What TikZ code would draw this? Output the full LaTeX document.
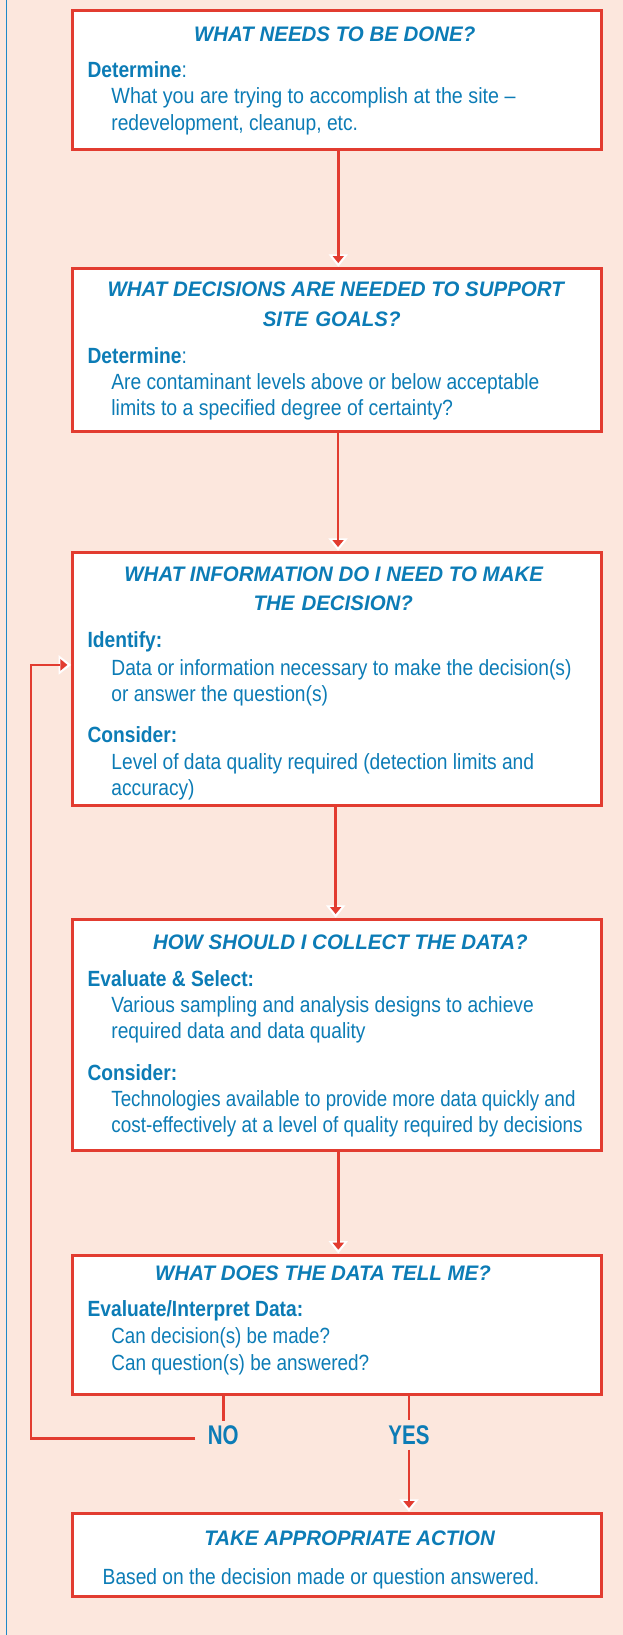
\documentclass[tikz,border=0pt]{standalone}
\usepackage{fontspec}
\usepackage{graphicx}
\setmainfont{Liberation Sans}
\newfontfamily\bodyf{Liberation Sans}[FakeStretch=0.873]
\newfontfamily\titlef{Liberation Sans}[FakeStretch=0.975]
\newfontfamily\ynf{Liberation Sans}[FakeStretch=0.76]
\usetikzlibrary{arrows.meta,calc}
\definecolor{tblue}{RGB}{12,124,182}
\definecolor{tred}{RGB}{226,60,48}
\definecolor{bgc}{RGB}{252,231,221}
\definecolor{lblue}{RGB}{30,136,200}
\tikzset{
  ttl/.style={anchor=base, inner sep=0pt, text=tblue, font=\titlef\fontsize{21}{25}\selectfont\bfseries\itshape},
  lbl/.style={anchor=base west, inner sep=0pt, text=tblue, font=\bodyf\fontsize{22}{26}\selectfont\bfseries},
  bodytxt/.style={anchor=base west, inner sep=0pt, text=tblue, font=\bodyf\fontsize{22}{26}\selectfont},
  yn/.style={text=tblue, font=\ynf\fontsize{27}{30}\selectfont\bfseries, inner xsep=12.5pt},
  box/.style={draw=tred, line width=3pt, fill=white, minimum width=528.3pt, inner sep=0pt},
  conn/.style={draw=tred, line width=2.5pt},
  arr/.style={conn, -{Triangle[width=19.5pt,length=12.5pt,line width=0pt,color=white]},
    postaction={draw=tred, line width=2.5pt, shorten >=3.8pt,
      -{Triangle[width=11.5pt,length=7pt,line width=0pt,color=tred]}}}
}
\begin{document}
\begin{tikzpicture}[x=1pt,y=-1pt]
\useasboundingbox (0,0) rectangle (623,1635);
\fill[bgc] (0,0) rectangle (623,1635);
\draw[lblue, line width=1.3pt] (6.7,0) -- (6.7,1635);

% boxes
\node[box, minimum height=138.6pt] (b1) at (336.85,80) {};
\node[box, minimum height=162.7pt] (b2) at (336.85,349.65) {};
\node[box, minimum height=253.2pt] (b3) at (336.85,678.9) {};
\node[box, minimum height=231.4pt] (b4) at (336.85,1035) {};
\node[box, minimum height=139.3pt] (b5) at (336.85,1324.65) {};
\node[box, minimum height=82.7pt] (b6) at (336.85,1554.65) {};

% box 1
\node[ttl] (t1) at (334.7,41.7) {WHAT NEEDS TO BE DONE?};
\node[bodytxt] (l1) at (87.4,77.3) {\textbf{Determine}:};
\node[bodytxt] (x1a) at (111.2,104) {\scalebox{1.026}[1]{What you are trying to accomplish at the site \textendash}};
\node[bodytxt] (x1b) at (111.2,130.5) {redevelopment, cleanup, etc.};

% box 2
\node[ttl] (t2a) at (335.7,296.7) {WHAT DECISIONS ARE NEEDED TO SUPPORT};
\node[ttl] (t2b) at (331.7,326.7) {SITE\hspace{7pt}GOALS?};
\node[bodytxt] (l2) at (87.4,363.3) {\textbf{Determine}:};
\node[bodytxt] (x2a) at (111.2,389.3) {Are contaminant levels above or below acceptable};
\node[bodytxt] (x2b) at (111.2,415) {\scalebox{1.013}[1]{limits to a specified degree of certainty?}};

% box 3
\node[ttl] (t3a) at (333.7,581.7) {WHAT INFORMATION DO I NEED TO MAKE};
\node[ttl] (t3b) at (333.3,610.7) {THE\hspace{7pt}DECISION?};
\node[lbl] (l3a) at (87.4,647.7) {Identify:};
\node[bodytxt] (x3a) at (111.2,675) {Data or information necessary to make the decision(s)};
\node[bodytxt] (x3b) at (111.2,701) {or answer the question(s)};
\node[lbl] (l3b) at (87.4,742.3) {Consider:};
\node[bodytxt] (x3c) at (111.2,769) {Level of data quality required (detection limits and};
\node[bodytxt] (x3d) at (111.2,795) {accuracy)};

% box 4
\node[ttl] (t4) at (340.3,949.7) {HOW SHOULD I COLLECT THE DATA?};
\node[lbl] (l4a) at (87.4,986.5) {Evaluate \& Select:};
\node[bodytxt] (x4a) at (111.2,1012) {Various sampling and analysis designs to achieve};
\node[bodytxt] (x4b) at (111.2,1038) {required data and data quality};
\node[lbl] (l4b) at (87.4,1080.7) {Consider:};
\node[bodytxt] (x4c) at (111.2,1106) {\scalebox{0.975}[1]{Technologies available to provide more data quickly and}};
\node[bodytxt] (x4d) at (111.2,1132.5) {\scalebox{0.986}[1]{cost-effectively at a level of quality required by decisions}};

% box 5
\node[ttl] (t5) at (323,1280) {WHAT DOES THE DATA TELL ME?};
\node[lbl] (l5) at (87.4,1316.7) {Evaluate/Interpret Data:};
\node[bodytxt] (x5a) at (111.2,1343.3) {\scalebox{0.975}[1]{Can decision(s) be made?}};
\node[bodytxt] (x5b) at (111.2,1370) {\scalebox{0.986}[1]{Can question(s) be answered?}};

% box 6
\node[ttl] (t6) at (349.6,1545) {TAKE APPROPRIATE ACTION};
\node[bodytxt] (x6) at (102.5,1584) {Based on the decision made or question answered.};

% NO / YES
\node[yn, inner ysep=4pt] (no) at (223.3,1435) {NO};
\node[yn, inner ysep=5pt, inner xsep=2pt] (yes) at (409,1435) {YES};
\coordinate (fb) at (31,1438.3);

% connectors
\draw[arr] ([xshift=1.45pt]b1.south) -- ([xshift=1.45pt]b2.north);
\draw[arr] ([xshift=1.2pt]b2.south) -- ([xshift=1.2pt]b3.north);
\draw[arr] ([xshift=-1.2pt]b3.south) -- ([xshift=-1.2pt]b4.north);
\draw[arr] ([xshift=1.45pt]b4.south) -- ([xshift=1.45pt]b5.north);
\draw[conn] (no.north |- b5.south) -- (no.north);
\draw[conn] (yes.north |- b5.south) -- (yes.north);
\draw[arr] (yes.south) -- (yes.south |- b6.north);
\draw[arr] ([yshift=-3.3pt]no.west) -- (fb) |- ([yshift=14pt]b3.west);
\end{tikzpicture}
\end{document}
